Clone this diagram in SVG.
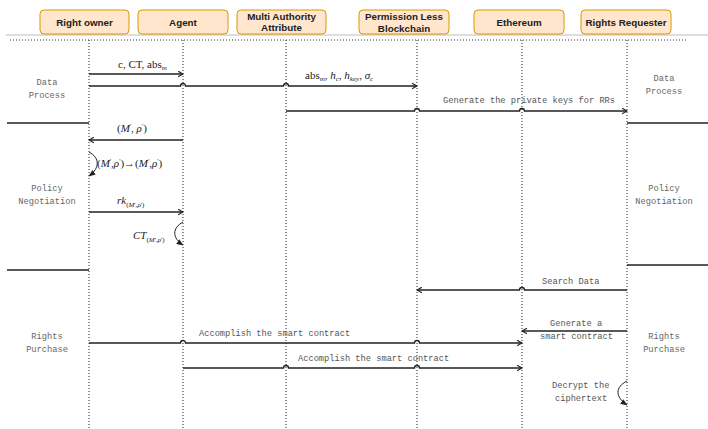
<svg xmlns="http://www.w3.org/2000/svg" width="708" height="429" viewBox="0 0 708 429">
<style>
.box{fill:#ffe6cc;stroke:#d79b00;stroke-width:1}
.hd{font-family:"Liberation Sans",Arial,sans-serif;font-weight:bold;font-size:9.8px;fill:#222;text-anchor:middle}
.life{stroke:#222;stroke-width:1;stroke-dasharray:1 2;fill:none}
.msg{stroke:#222;stroke-width:1.3;fill:none}
.msga{stroke:#222;stroke-width:1.3;fill:none;marker-end:url(#open)}
.loop{stroke:#222;stroke-width:1;fill:none;marker-end:url(#fill)}
.sep{stroke:#222;stroke-width:1.5}
.lb{font-family:"Liberation Mono","DejaVu Sans Mono",monospace;font-size:8.7px;fill:#555}
.sec{font-family:"Liberation Mono","DejaVu Sans Mono",monospace;font-size:8.7px;fill:#666;text-anchor:middle}
.m{font-family:"Liberation Serif","Times New Roman",serif;font-size:11px;fill:#222}
.mi{font-style:italic}
.sub{font-size:7px}
</style>
<defs>
<marker id="open" viewBox="0 0 10 10" refX="9" refY="5" markerWidth="7" markerHeight="7" markerUnits="userSpaceOnUse" orient="auto">
<path d="M2,1 L9,5 L2,9" fill="none" stroke="#222" stroke-width="1.6"/>
</marker>
<marker id="fill" viewBox="0 0 10 10" refX="9" refY="5" markerWidth="7" markerHeight="7" markerUnits="userSpaceOnUse" orient="auto">
<path d="M0,1 L10,5 L0,9 Z" fill="#222"/>
</marker>
</defs>
<rect width="708" height="429" fill="#fff"/>
<g id="header-lines">
<line x1="6" y1="35" x2="708" y2="35" stroke="#bbb" stroke-width="1"/>
<line x1="10" y1="40" x2="686" y2="40" stroke="#333" stroke-width="1" stroke-dasharray="1 2"/>
</g>
<g id="node-right-owner"><rect class="box" x="40" y="10" width="89" height="24" rx="4"/><text class="hd" x="84.5" y="25.5">Right owner</text></g>
<g id="node-agent"><rect class="box" x="138" y="10" width="90" height="24" rx="4"/><text class="hd" x="183" y="25.5">Agent</text></g>
<g id="node-maa"><rect class="box" x="237" y="10" width="89" height="24" rx="4"/><text class="hd" x="281.5" y="20">Multi Authority</text><text class="hd" x="281.5" y="31">Attribute</text></g>
<g id="node-plb"><rect class="box" x="359" y="10" width="90" height="24" rx="4"/><text class="hd" x="404" y="20">Permission Less</text><text class="hd" x="404" y="31.5">Blockchain</text></g>
<g id="node-eth"><rect class="box" x="474" y="10" width="90" height="24" rx="4"/><text class="hd" x="519" y="25.5">Ethereum</text></g>
<g id="node-rr"><rect class="box" x="581" y="10" width="90" height="24" rx="4"/><text class="hd" x="626" y="25.5">Rights Requester</text></g>
<g id="lifelines">
<line class="life" x1="89" y1="40" x2="89" y2="429"/>
<line class="life" x1="183" y1="40" x2="183" y2="429"/>
<line class="life" x1="286" y1="40" x2="286" y2="429"/>
<line class="life" x1="417" y1="40" x2="417" y2="429"/>
<line class="life" x1="522" y1="40" x2="522" y2="429"/>
<line class="life" x1="627" y1="40" x2="627" y2="429"/>
</g>
<g id="sections">
<line class="sep" x1="7" y1="123" x2="89" y2="123"/>
<line class="sep" x1="7" y1="270" x2="89" y2="270"/>
<line class="sep" x1="627" y1="123" x2="708" y2="123"/>
<line class="sep" x1="627" y1="265" x2="708" y2="265"/>
<text class="sec" x="47" y="85">Data</text><text class="sec" x="47" y="98">Process</text>
<text class="sec" x="664" y="81">Data</text><text class="sec" x="664" y="94">Process</text>
<text class="sec" x="47" y="191">Policy</text><text class="sec" x="47" y="204">Negotiation</text>
<text class="sec" x="664" y="191">Policy</text><text class="sec" x="664" y="204">Negotiation</text>
<text class="sec" x="47" y="339">Rights</text><text class="sec" x="47" y="352">Purchase</text>
<text class="sec" x="664" y="339">Rights</text><text class="sec" x="664" y="352">Purchase</text>
</g>
<g id="connectors">
<path class="msga" d="M89,74 H183"/>
<path class="msga" d="M89,86 H180.5 a2.5,2.5 0 0 1 5,0 H283.5 a2.5,2.5 0 0 1 5,0 H417"/>
<path class="msga" d="M286,111 H414.5 a2.5,2.5 0 0 1 5,0 H519.5 a2.5,2.5 0 0 1 5,0 H627"/>
<path class="msga" d="M183,140 H89"/>
<path class="loop" d="M89,152 C100,158 100,168 89,176"/>
<path class="msga" d="M89,212 H183"/>
<path class="loop" d="M183,222 C172,228 172,238 183,245"/>
<path class="msga" d="M627,290 H524.5 a2.5,2.5 0 0 0 -5,0 H417"/>
<path class="msga" d="M627,331 H522"/>
<path class="msga" d="M89,343 H180.5 a2.5,2.5 0 0 1 5,0 H414.5 a2.5,2.5 0 0 1 5,0 H522"/>
<path class="msga" d="M183,368 H283.5 a2.5,2.5 0 0 1 5,0 H414.5 a2.5,2.5 0 0 1 5,0 H522"/>
<path class="loop" d="M627,381 C615,387 615,397 627,405"/>
</g>
<g id="labels">
<text class="m" x="118" y="68">c, CT, abs<tspan class="sub mi" dy="2">m</tspan></text>
<text class="m" x="305" y="79">abs<tspan class="sub mi" dy="2">m</tspan><tspan dy="-2">, </tspan><tspan class="mi">h</tspan><tspan class="sub mi" dy="2">c</tspan><tspan dy="-2">, </tspan><tspan class="mi">h</tspan><tspan class="sub mi" dy="2">key</tspan><tspan dy="-2">, </tspan><tspan class="mi">σ</tspan><tspan class="sub mi" dy="2">c</tspan></text>
<text class="lb" x="443" y="103">Generate the private keys for RRs</text>
<text class="m" x="117" y="132">(<tspan class="mi">M</tspan><tspan class="sub" dy="-4">'</tspan><tspan dy="4">, </tspan><tspan class="mi">ρ</tspan><tspan class="sub" dy="-4">'</tspan><tspan dy="4">)</tspan></text>
<text class="m" x="97" y="167">(<tspan class="mi">M</tspan><tspan class="sub" dy="-4">'</tspan><tspan dy="4">,</tspan><tspan class="mi">ρ</tspan><tspan class="sub" dy="-4">'</tspan><tspan dy="4">)→(</tspan><tspan class="mi">M</tspan><tspan class="sub" dy="-4">'</tspan><tspan dy="4">,</tspan><tspan class="mi">ρ</tspan><tspan class="sub" dy="-4">'</tspan><tspan dy="4">)</tspan></text>
<text class="m" x="117" y="204"><tspan class="mi">rk</tspan><tspan class="sub" dy="3">(</tspan><tspan class="sub mi">M</tspan><tspan class="sub">',</tspan><tspan class="sub mi">ρ</tspan><tspan class="sub">')</tspan></text>
<text class="m" x="133" y="239"><tspan class="mi">CT</tspan><tspan class="sub" dy="3">(</tspan><tspan class="sub mi">M</tspan><tspan class="sub">',</tspan><tspan class="sub mi">ρ</tspan><tspan class="sub">')</tspan></text>
<text class="lb" x="542" y="284">Search Data</text>
<text class="lb" x="550" y="326">Generate a</text>
<text class="lb" x="540" y="339">smart contract</text>
<text class="lb" x="199" y="336">Accomplish the smart contract</text>
<text class="lb" x="298" y="361">Accomplish the smart contract</text>
<text class="lb" x="552" y="388">Decrypt the</text>
<text class="lb" x="555" y="401">ciphertext</text>
</g>
</svg>
